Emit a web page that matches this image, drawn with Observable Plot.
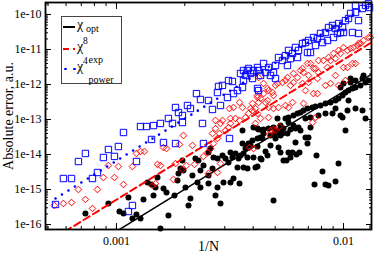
<!DOCTYPE html>
<html><head><meta charset="utf-8">
<script src="https://cdn.jsdelivr.net/npm/d3@7"></script>
<script src="https://cdn.jsdelivr.net/npm/@observablehq/plot@0.6"></script>
<style>
body{margin:0;background:#fff;}
#wrap{position:relative;width:374px;height:255px;font-family:"Liberation Serif",serif;color:#000;}
.lg{position:absolute;white-space:nowrap;}
.chi{font-size:14px;line-height:14px;}
.sm{font-size:10px;line-height:10px;}
.sp{font-size:9.5px;line-height:10px;}
</style></head><body>
<div id="wrap"></div>
<script>
// ---- axis setup ----
const xDomain = [4.87e-4, 1.328e-2];
const yDomain = [7.2e-17, 2.2e-10];
const xTicks = [0.001, 0.01];
const xTickLabels = ["0.001", "0.01"];
const yTicks = [1e-16, 1e-15, 1e-14, 1e-13, 1e-12, 1e-11, 1e-10];
const yTickLabels = ["1e-16", "1e-15", "1e-14", "1e-13", "1e-12", "1e-11", "1e-10"];
const xTitle = "1/N";
const yTitle = "Absolute error, a.u.";

// ---- series: [1/N, absolute error] ----
const optData = [
[7.30e-4,2.06e-16],[9.22e-4,3.98e-16],[1.031e-3,2.35e-16],[1.074e-3,2.06e-16],[1.129e-3,5.9e-16],[1.176e-3,1.48e-16],[1.225e-3,1.93e-16],[1.276e-3,1.48e-16],[1.315e-3,5.2e-16],[1.370e-3,1.58e-15],[1.427e-3,1.39e-15],[1.456e-3,6.7e-16],[1.486e-3,1.14e-15],[1.516e-3,2.2e-15],[1.562e-3,7.7e-17],[1.611e-3,1.07e-15],[1.661e-3,8.2e-16],[1.694e-3,1.81e-16],[1.801e-3,6.7e-16],[1.857e-3,1.81e-15],[1.876e-3,2.87e-15],[1.913e-3,3.98e-15],[1.953e-3,6.7e-15],[1.973e-3,3.49e-15],[2.014e-3,1.14e-15],[2.076e-3,3.49e-16],[2.118e-3,5.5e-16],[2.161e-3,2.51e-15],[2.228e-3,7.7e-15],[2.274e-3,1.58e-15],[2.297e-3,6.7e-15],[2.344e-3,3.49e-15],[2.344e-3,1.14e-15],[2.417e-3,4.85e-15],[2.543e-3,2.51e-15],[2.543e-3,1.14e-14],[2.543e-3,1.48e-15],[2.595e-3,1.48e-14],[2.648e-3,3.98e-15],[2.675e-3,8.2e-15],[2.730e-3,6.7e-16],[2.786e-3,7.7e-15],[2.786e-3,1.14e-15],[2.872e-3,3.98e-16],[2.931e-3,9.4e-15],[2.961e-3,1.58e-15],[3.022e-3,7.7e-15],[3.115e-3,5.9e-15],[3.178e-3,1.14e-14],[3.178e-3,1.58e-15],[3.243e-3,8.2e-15],[3.276e-3,2.06e-15],[3.343e-3,1.07e-14],[3.412e-3,4.25e-15],[3.447e-3,7.7e-15],[3.483e-3,1.48e-15],[3.518e-3,9.4e-15],[3.590e-3,4.85e-14],[3.590e-3,2.06e-14],[3.627e-3,1.07e-14],[3.627e-3,4.25e-15],[3.701e-3,1.48e-14],[3.777e-3,8.2e-15],[3.777e-3,1.81e-14],[3.777e-3,3.98e-15],[3.815e-3,2.06e-14],[3.893e-3,1.81e-14],[3.973e-3,2.51e-14],[4.013e-3,5.9e-14],[4.013e-3,8.2e-15],[4.095e-3,4.25e-15],[4.180e-3,1.69e-14],[4.180e-3,2.87e-14],[4.180e-3,5.5e-14],[4.180e-3,4.54e-15],[4.224e-3,5.2e-14],[4.310e-3,3.06e-14],[4.310e-3,7.7e-15],[4.354e-3,7.2e-15],[4.398e-3,4.85e-14],[4.398e-3,2.87e-14],[4.443e-3,5.2e-14],[4.443e-3,3.98e-14],[4.534e-3,1.22e-14],[4.627e-3,9.4e-15],[4.674e-3,5.5e-14],[4.769e-3,3.49e-14],[4.769e-3,1.81e-14],[4.916e-3,5.9e-14],[4.916e-3,4.85e-16],[5.016e-3,3.98e-14],[5.016e-3,4.25e-14],[5.016e-3,2.87e-14],[5.120e-3,1.07e-13],[5.172e-3,4.85e-14],[5.172e-3,1.58e-14],[5.277e-3,3.49e-14],[5.277e-3,1.14e-14],[5.277e-3,6.7e-14],[5.385e-3,3.98e-14],[5.440e-3,5.5e-14],[5.440e-3,6.7e-15],[5.551e-3,1.07e-13],[5.608e-3,6.7e-15],[5.665e-3,3.98e-14],[5.723e-3,1.14e-13],[5.723e-3,8.2e-14],[5.723e-3,1.14e-14],[5.840e-3,5.2e-14],[5.840e-3,8.2e-15],[5.960e-3,1.14e-14],[6.021e-3,1.30e-13],[6.021e-3,6.7e-14],[6.144e-3,5.5e-14],[6.144e-3,2.2e-14],[6.207e-3,1.0e-14],[6.270e-3,1.48e-13],[6.334e-3,5.9e-14],[6.399e-3,1.14e-14],[6.464e-3,4.85e-14],[6.464e-3,1.58e-13],[6.664e-3,1.81e-13],[6.801e-3,3.06e-14],[6.801e-3,1.07e-13],[6.940e-3,2.06e-14],[6.940e-3,2.06e-13],[7.011e-3,3.06e-14],[7.155e-3,5.9e-14],[7.155e-3,1.14e-13],[7.301e-3,2.2e-13],[7.451e-3,1.39e-15],[7.527e-3,2.35e-13],[7.603e-3,9.4e-15],[7.758e-3,1.30e-13],[7.917e-3,2.51e-13],[8.080e-3,3.27e-15],[8.330e-3,2.87e-13],[8.330e-3,1.48e-13],[8.330e-3,1.39e-15],[8.587e-3,1.30e-15],[8.763e-3,3.06e-13],[8.943e-3,1.48e-13],[9.221e-3,3.49e-13],[9.221e-3,2.06e-13],[9.221e-3,1.69e-15],[9.506e-3,3.98e-13],[9.506e-3,5.5e-15],[9.701e-3,8.2e-13],[9.701e-3,1.30e-13],[9.90e-3,4.85e-13],[9.90e-3,1.14e-13],[1.0e-2,1.07e-12],[1.020e-2,5.9e-13],[1.020e-2,4.85e-14],[1.041e-2,1.81e-13],[1.052e-2,6.7e-13],[1.052e-2,3.49e-13],[1.074e-2,1.14e-12],[1.074e-2,1.48e-12],[1.095e-2,7.7e-13],[1.129e-2,8.2e-13],[1.129e-2,1.30e-12],[1.129e-2,2.06e-13],[1.188e-2,9.4e-13],[1.212e-2,1.48e-12],[1.212e-2,1.81e-13],[1.225e-2,1.81e-12],[1.250e-2,1.14e-12],[1.250e-2,1.07e-13],[1.288e-2,1.30e-12]
];
const expData = [
[5.33e-4,3.49e-16],[5.84e-4,3.98e-16],[6.34e-4,4.25e-16],[6.80e-4,1.0e-15],[7.30e-4,5.2e-16],[7.84e-4,2.87e-16],[8.25e-4,1.0e-15],[8.76e-4,2.2e-15],[9.22e-4,4.85e-15],[9.80e-4,2.2e-15],[1.02e-3,4.54e-15],[1.074e-3,1.39e-15],[1.176e-3,4.54e-15],[1.225e-3,1.07e-14],[1.276e-3,1.22e-14],[1.328e-3,1.22e-14],[1.441e-3,1.30e-15],[1.486e-3,1.48e-15],[1.516e-3,5.2e-15],[1.562e-3,4.85e-15],[1.611e-3,1.58e-14],[1.661e-3,1.48e-14],[1.783e-3,1.93e-15],[1.820e-3,5.5e-15],[1.895e-3,1.93e-14],[1.953e-3,3.73e-15],[1.973e-3,3.49e-14],[2.034e-3,4.85e-15],[2.161e-3,1.81e-14],[2.206e-3,5.2e-15],[2.417e-3,8.8e-15],[2.517e-3,1.14e-14],[2.595e-3,1.48e-14],[2.675e-3,2.06e-14],[2.786e-3,2.87e-14],[2.843e-3,3.98e-14],[3.022e-3,4.85e-14],[3.115e-3,5.9e-14],[3.178e-3,7.7e-14],[2.872e-3,7.7e-14],[2.730e-3,5.5e-14],[2.648e-3,3.98e-14],[2.786e-3,3.06e-15],[2.543e-3,2.87e-15],[2.872e-3,5.5e-15],[3.483e-3,9.4e-14],[3.854e-3,1.58e-14],[4.013e-3,1.48e-14],[4.721e-3,3.73e-14],[4.916e-3,5.2e-14],[5.224e-3,6.3e-14],[2.730e-3,9.4e-14],[2.931e-3,9.4e-14],[3.178e-3,1.07e-13],[3.343e-3,1.07e-13],[3.147e-3,2.06e-13],[3.276e-3,2.2e-13],[3.483e-3,3.06e-13],[3.590e-3,2.2e-13],[3.893e-3,2.06e-13],[3.701e-3,1.14e-13],[3.815e-3,1.48e-13],[3.973e-3,1.81e-13],[4.095e-3,2.06e-13],[4.224e-3,3.06e-13],[4.180e-3,1.48e-13],[3.973e-3,2.87e-13],[4.180e-3,4.25e-13],[4.443e-3,5.5e-13],[4.627e-3,3.49e-13],[4.674e-3,6.7e-13],[4.916e-3,4.85e-13],[5.120e-3,1.07e-12],[5.385e-3,1.14e-12],[5.551e-3,1.30e-12],[6.021e-3,2.06e-12],[6.270e-3,1.58e-12],[6.464e-3,2.51e-12],[6.597e-3,2.87e-12],[6.940e-3,3.98e-12],[7.155e-3,3.98e-12],[7.376e-3,2.87e-12],[7.758e-3,4.85e-12],[8.162e-3,4.85e-12],[8.587e-3,5.9e-12],[9.034e-3,7.7e-12],[9.506e-3,9.4e-12],[1.0e-2,1.14e-11],[1.041e-2,3.06e-12],[1.129e-2,3.98e-12],[1.164e-2,1.48e-11],[1.225e-2,1.81e-11],[1.288e-2,2.2e-11],[6.664e-3,2.2e-12],[7.011e-3,1.81e-12],[7.527e-3,2.87e-12],[7.758e-3,2.2e-12],[8.500e-3,3.06e-12],[8.763e-3,4.85e-12],[9.221e-3,5.5e-12],[9.701e-3,7.7e-12],[1.041e-2,9.4e-12],[1.074e-2,1.07e-11],[1.107e-2,1.14e-11],[1.152e-2,1.30e-11],[1.188e-2,1.48e-11],[1.315e-2,2.2e-11],[1.095e-2,3.98e-12],[1.0e-2,3.06e-12],[9.221e-3,1.81e-12],[7.680e-3,1.48e-12],[4.224e-3,1.58e-12],[4.443e-3,1.07e-12],[4.627e-3,7.7e-13],[4.867e-3,5.9e-13],[5.016e-3,9.4e-13],[5.665e-3,1.58e-12],[5.840e-3,9.4e-13],[6.021e-3,1.14e-12],[6.597e-3,1.07e-12],[6.801e-3,6.7e-13],[7.011e-3,1.14e-12],[7.376e-3,5.5e-13],[7.680e-3,5.5e-13],[8.330e-3,9.4e-13],[8.763e-3,1.07e-12],[9.506e-3,9.4e-13],[1.020e-2,1.30e-12],[4.180e-3,4.85e-13],[4.310e-3,3.98e-13],[4.534e-3,3.06e-13],[4.674e-3,2.2e-13],[4.916e-3,2.06e-13],[5.172e-3,2.2e-13],[5.551e-3,2.51e-13],[5.723e-3,2.2e-13],[5.960e-3,3.06e-13],[6.664e-3,2.87e-13],[7.301e-3,8.2e-14],[7.527e-3,1.14e-13],[4.310e-3,1.07e-13],[4.674e-3,1.14e-13],[4.769e-3,4.85e-14],[5.016e-3,4.85e-14],[4.095e-3,7.7e-14]
];
const powData = [
[5.39e-4,3.73e-16],[5.84e-4,2.06e-15],[6.34e-4,2.06e-15],[6.80e-4,6.3e-15],[7.30e-4,1.07e-14],[7.84e-4,2.06e-15],[8.25e-4,3.06e-15],[8.76e-4,8.2e-15],[9.22e-4,1.39e-14],[9.80e-4,8.8e-15],[1.02e-3,1.69e-14],[1.074e-3,4.25e-14],[1.129e-3,2.35e-16],[1.176e-3,3.49e-16],[1.225e-3,6.3e-15],[1.276e-3,6.3e-14],[1.356e-3,6.3e-14],[1.427e-3,2.69e-14],[1.456e-3,6.7e-14],[1.562e-3,7.7e-14],[1.611e-3,2.2e-14],[1.694e-3,1.07e-13],[1.765e-3,7.7e-14],[1.820e-3,2.2e-13],[1.820e-3,2.06e-14],[1.876e-3,1.58e-13],[1.953e-3,1.30e-13],[1.953e-3,8.2e-14],[2.055e-3,2.51e-13],[2.118e-3,2.06e-13],[2.251e-3,5.5e-13],[2.344e-3,3.73e-13],[2.393e-3,7.7e-14],[2.417e-3,2.06e-14],[2.543e-3,3.49e-13],[2.648e-3,1.93e-13],[2.786e-3,5.9e-13],[2.815e-3,8.8e-13],[2.872e-3,2.51e-13],[2.931e-3,9.4e-13],[3.083e-3,4.25e-13],[3.115e-3,1.30e-12],[3.147e-3,2.87e-14],[3.243e-3,1.22e-12],[3.276e-3,5.5e-13],[3.412e-3,6.7e-13],[3.518e-3,2.06e-12],[3.590e-3,8.2e-13],[3.627e-3,2.51e-12],[3.701e-3,1.81e-12],[3.777e-3,2.51e-12],[3.815e-3,2.87e-12],[3.893e-3,2.06e-12],[3.973e-3,1.48e-12],[4.013e-3,2.51e-12],[4.180e-3,3.06e-12],[4.180e-3,7.7e-13],[4.224e-3,6.7e-13],[3.627e-3,1.30e-12],[4.224e-3,2.51e-12],[4.443e-3,3.98e-12],[4.674e-3,3.06e-12],[4.916e-3,2.2e-12],[5.016e-3,3.49e-12],[5.172e-3,5.9e-12],[5.385e-3,4.85e-12],[5.551e-3,6.7e-12],[5.665e-3,3.49e-12],[5.723e-3,9.4e-12],[5.960e-3,7.7e-12],[6.144e-3,1.14e-11],[6.334e-3,9.4e-12],[6.597e-3,1.48e-11],[6.801e-3,1.58e-11],[6.940e-3,8.2e-12],[7.155e-3,8.2e-12],[7.011e-3,1.81e-11],[7.376e-3,2.2e-11],[7.680e-3,2.06e-11],[7.917e-3,2.87e-11],[8.080e-3,1.58e-11],[8.330e-3,3.06e-11],[8.500e-3,1.81e-11],[8.587e-3,4.25e-11],[8.943e-3,4.85e-11],[9.221e-3,3.98e-11],[9.506e-3,5.5e-11],[9.701e-3,3.06e-11],[1.0e-2,3.06e-11],[1.020e-2,6.7e-11],[1.052e-2,7.7e-11],[1.074e-2,1.07e-10],[1.095e-2,3.06e-11],[1.129e-2,1.14e-10],[1.164e-2,2.87e-11],[1.164e-2,6.7e-11],[1.212e-2,1.48e-10],[1.250e-2,1.81e-10],[1.288e-2,2.06e-10],[1.302e-2,1.58e-10],[1.129e-2,1.81e-10],[9.90e-3,4.25e-11],[9.034e-3,2.2e-11],[9.410e-3,2.87e-11],[7.527e-3,1.30e-11],[6.270e-3,5.9e-12],[5.840e-3,5.5e-12],[4.534e-3,2.2e-12],[4.310e-3,1.81e-12],[4.769e-3,1.81e-12],[5.016e-3,1.48e-12]
];

// ---- fitted power-law guide lines (end points) ----
const lineX = [5.39e-4, 1.315e-2];
const optFit = [5.4e-18, 1.89e-12];
const expFit = [4.3e-17, 1.53e-11];
const powFit = [5.56e-16, 1.98e-10];

const X = d => d[0], Y = d => d[1];
const rows = ys => lineX.map((x, i) => [x, ys[i]]);
const blank = () => "";

const chart = Plot.plot({
  width: 374, height: 255,
  marginLeft: 45, marginRight: 3, marginTop: 2, marginBottom: 26,
  x: {type: "log", domain: xDomain},
  y: {type: "log", domain: yDomain},
  style: {fontFamily: '"Liberation Serif", serif', fontSize: "12px", background: "white", color: "black"},
  marks: [
    Plot.dot(optData, {x: X, y: Y, r: 3, fill: "black", stroke: null}),
    Plot.line(rows(optFit), {x: X, y: Y, stroke: "black", strokeWidth: 1.5, clip: true}),
    Plot.dot(expData, {x: X, y: Y, symbol: "diamond2", r: 3, stroke: "#ff0000", strokeWidth: 1, fill: "none"}),
    Plot.line(rows(expFit), {x: X, y: Y, stroke: "#ff0000", strokeWidth: 2, strokeDasharray: "7,4", clip: true}),
    Plot.dot(powData, {x: X, y: Y, symbol: "square", r: 3.6, stroke: "#0000ff", strokeWidth: 1, fill: "none"}),
    Plot.line(rows(powFit), {x: X, y: Y, stroke: "#0000ff", strokeWidth: 2.6, strokeDasharray: "0,7.6", strokeLinecap: "round", clip: true}),
    // minor ticks (inward, all four sides)
    Plot.axisX({anchor: "bottom", ticks: 30, tickSize: -3, tickFormat: blank, label: null}),
    Plot.axisX({anchor: "top", ticks: 30, tickSize: -3, tickFormat: blank, label: null}),
    Plot.axisY({anchor: "left", ticks: 40, tickSize: -3, tickFormat: blank, label: null}),
    Plot.axisY({anchor: "right", ticks: 40, tickSize: -3, tickFormat: blank, label: null}),
    // major ticks
    Plot.axisX(xTicks, {anchor: "bottom", tickSize: -6, tickFormat: blank, label: null}),
    Plot.axisX(xTicks, {anchor: "top", tickSize: -6, tickFormat: blank, label: null}),
    Plot.axisY(yTicks, {anchor: "left", tickSize: -6, tickFormat: blank, label: null}),
    Plot.axisY(yTicks, {anchor: "right", tickSize: -6, tickFormat: blank, label: null}),
    // tick labels
    Plot.axisX(xTicks, {anchor: "bottom", tickSize: 0, tickPadding: 7, tickFormat: d => xTickLabels[xTicks.indexOf(d)], label: null}),
    Plot.axisY(yTicks, {anchor: "left", tickSize: 0, tickPadding: 4, tickFormat: d => yTickLabels[yTicks.indexOf(d)], label: null}),
    // titles
    Plot.text([xTitle], {frameAnchor: "bottom", dy: 17.5, fontSize: 14, textAnchor: "middle", lineAnchor: "middle"}),
    Plot.text([yTitle], {frameAnchor: "left", dx: -37, rotate: -90, fontSize: 14, textAnchor: "middle", lineAnchor: "middle"}),
    Plot.frame({stroke: "black", strokeWidth: 1.8})
  ]
});
const wrap = document.getElementById("wrap");
wrap.append(chart);

// ---- legend ----
const legendItems = [
  {name: "χ", sup: "", sub: "opt", color: "black", kind: "solid", cy: 27},
  {name: "χ", sup: "8", sub: "exp", color: "#ff0000", kind: "dash", cy: 49},
  {name: "χ", sup: "4", sub: "power", color: "#0000ff", kind: "dot", cy: 69}
];
function el(css, html, cls) {
  const d = document.createElement("div");
  d.className = "lg" + (cls ? " " + cls : "");
  d.style.cssText = css;
  if (html) d.textContent = html;
  wrap.append(d);
  return d;
}
el("left:61px;top:16px;width:59px;height:66px;border:1px solid #444;background:#fff;");
legendItems.forEach((it) => {
  const c = it.cy;
  if (it.kind === "solid") {
    el(`left:63px;top:${c - 1}px;width:12px;height:2px;background:${it.color};`);
  } else if (it.kind === "dash") {
    el(`left:63px;top:${c - 1}px;width:6px;height:2px;background:${it.color};`);
    el(`left:73px;top:${c - 1}px;width:2px;height:2px;background:${it.color};`);
  } else {
    el(`left:64px;top:${c - 1.3}px;width:2.6px;height:2.6px;border-radius:50%;background:${it.color};`);
    el(`left:73px;top:${c - 1.3}px;width:2.6px;height:2.6px;border-radius:50%;background:${it.color};`);
  }
  el(`left:77px;top:${c - 9}px;`, it.name, "chi");
  if (it.sup) {
    el(`left:83px;top:${c - 13}px;`, it.sup, "sp");
    el(`left:88.5px;top:${c + 6}px;`, it.sub, "sm");
  } else {
    el(`left:86px;top:${c - 3}px;`, it.sub, "sm");
  }
});
</script>
</body></html>
